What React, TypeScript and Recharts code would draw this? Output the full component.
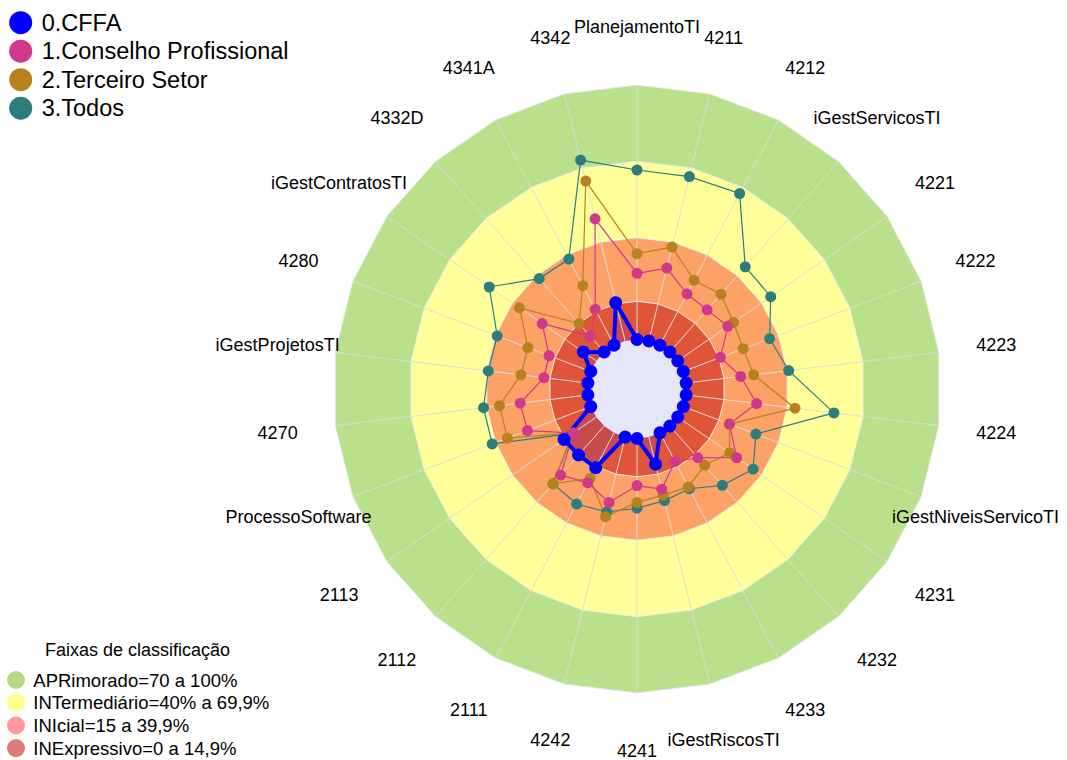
import React from 'react';
import { RadarChart, Radar, PolarGrid, PolarAngleAxis, PolarRadiusAxis } from 'recharts';

const categories = [
  'PlanejamentoTI', '4211', '4212', 'iGestServicosTI', '4221', '4222', '4223', '4224',
  'iGestNiveisServicoTI', '4231', '4232', '4233', 'iGestRiscosTI', '4241', '4242', '2111',
  '2112', '2113', 'ProcessoSoftware', '4270', 'iGestProjetosTI', '4280', 'iGestContratosTI',
  '4332D', '4341A', '4342',
];

const cffa = [0, 0, 0, 0, 0, 0, 0, 0, 0, 0, 0, 0, 11, 0, 0, 15.5, 15.2, 15.4, 0, 0, 0, 0, 6.2, 0, 0, 15.5];
const conselho = [26, 29.5, 22.8, 22.1, 23.9, 15.6, 21.6, 27.9, 19.4, 28.1, 16.6, 12.7, 21.1, 18.5, 26.5, 22.2, 25.8, 11, 26.6, 26.8, 17.4, 17.5, 25.8, 8.2, 15.9, 49.4];
const terceiro = [33.7, 38, 28.8, 30.3, 26.6, 25.2, 26.7, 43.1, 19.4, 24.8, 20.6, 24, 23.5, 25.1, 32.2, 20.2, 30.3, 11, 35, 35, 26.5, 26.4, 36.7, 14.9, 26.4, 64.7];
const todos = [66.6, 66.5, 67.3, 44.7, 44.4, 36.3, 40.6, 58.5, 30.5, 36, 31.1, 24.8, 25.7, 27.4, 30.3, 31.6, 30.3, 11.2, 41.4, 41.3, 39.4, 39.3, 51.1, 38.5, 38.2, 73.2];

const seriesNames = ['0.CFFA', '1.Conselho Profissional', '2.Terceiro Setor', '3.Todos'];
const seriesColors = ['#0000FF', '#D1388A', '#B5821E', '#2E7D7D'];

const bandLimits = [100, 70, 40, 15];
const bandFills = ['#B9E08B', '#FFFF99', '#FCA266', '#E05537'];
const bandNames = ['APRimorado=70 a 100%', 'INTermediário=40% a 69,9%', 'INIcial=15 a 39,9%', 'INExpressivo=0 a 14,9%'];
const bandLegendColors = ['#B3DB85', '#FFFF8C', '#FF9999', '#DE7A7A'];
const bandTitle = 'Faixas de classificação';

const FONT = '"Liberation Sans", Arial, sans-serif';

const data = categories.map((c, i) => ({
  axis: c,
  cffa: cffa[i],
  conselho: conselho[i],
  terceiro: terceiro[i],
  todos: todos[i],
  b0: bandLimits[0],
  b1: bandLimits[1],
  b2: bandLimits[2],
  b3: bandLimits[3],
  base: 0,
}));

const AngleTick = (props: any) => {
  const { x, y, payload } = props;
  return (
    <text x={x} y={y} textAnchor="middle" dominantBaseline="central" fontSize={18} fill="#000" fontFamily={FONT}>
      {payload.value}
    </text>
  );
};

export default function App() {
  const seriesKeys = ['cffa', 'conselho', 'terceiro', 'todos'];
  return (
    <div style={{ position: 'fixed', left: 0, top: 0, width: 1067, height: 760, overflow: 'hidden', background: '#fff' }}>
      <RadarChart
        width={1067}
        height={760}
        cx={637}
        cy={389}
        innerRadius={49.5}
        outerRadius={304}
        data={data}
        margin={{ top: 0, right: 0, bottom: 0, left: 0 }}
      >
        <PolarRadiusAxis domain={[0, 100]} tick={false} axisLine={false} />
        {['b0', 'b1', 'b2', 'b3'].map((k, i) => (
          <Radar
            key={k}
            dataKey={k}
            fill={bandFills[i]}
            fillOpacity={1}
            stroke="#ececec"
            strokeWidth={1}
            dot={false}
            isAnimationActive={false}
            zIndex={101 + i}
          />
        ))}
        <Radar dataKey="cffa" fill="#0000FF" fillOpacity={0.11} stroke="none" dot={false} isAnimationActive={false} zIndex={105} />
        <Radar dataKey="base" fill="#E6E6FA" fillOpacity={1} stroke="none" dot={false} isAnimationActive={false} zIndex={106} />
        <PolarGrid gridType="polygon" polarRadius={[]} stroke="#dcdcdc" strokeWidth={1} zIndex={107} />
        <PolarAngleAxis dataKey="axis" tick={<AngleTick />} tickLine={false} axisLine={false} tickSize={58} />
        {[3, 2, 1].map((s) => (
          <Radar
            key={seriesKeys[s]}
            name={seriesNames[s]}
            dataKey={seriesKeys[s]}
            stroke={seriesColors[s]}
            strokeWidth={1.2}
            fill="none"
            fillOpacity={0}
            dot={{ r: 5.5, fill: seriesColors[s], stroke: seriesColors[s], strokeWidth: 0, fillOpacity: 1 }}
            isAnimationActive={false}
            zIndex={110 + (3 - s)}
          />
        ))}
        <Radar
          name={seriesNames[0]}
          dataKey="cffa"
          stroke={seriesColors[0]}
          strokeWidth={4}
          fill="none"
          fillOpacity={0}
          dot={{ r: 6.5, fill: seriesColors[0], stroke: seriesColors[0], strokeWidth: 0, fillOpacity: 1 }}
          isAnimationActive={false}
          zIndex={120}
        />
      </RadarChart>
      <svg width={1067} height={760} style={{ position: 'absolute', left: 0, top: 0, pointerEvents: 'none' }}>
        {seriesNames.map((n, i) => (
          <g key={n}>
            <circle cx={20.7} cy={22.7 + i * 28.5} r={11.5} fill={seriesColors[i]} />
            <text x={41.7} y={22.7 + i * 28.5} dominantBaseline="central" fontSize={23.5} fontFamily={FONT} fill="#000">
              {n}
            </text>
          </g>
        ))}
        <text x={45} y={650} dominantBaseline="central" fontSize={18} fontFamily={FONT} fill="#000">
          {bandTitle}
        </text>
        {bandNames.map((n, i) => (
          <g key={n}>
            <circle cx={16} cy={680 + i * 22.7} r={9} fill={bandLegendColors[i]} />
            <text x={33.3} y={680 + i * 22.7} dominantBaseline="central" fontSize={18.5} fontFamily={FONT} fill="#000">
              {n}
            </text>
          </g>
        ))}
      </svg>
    </div>
  );
}
